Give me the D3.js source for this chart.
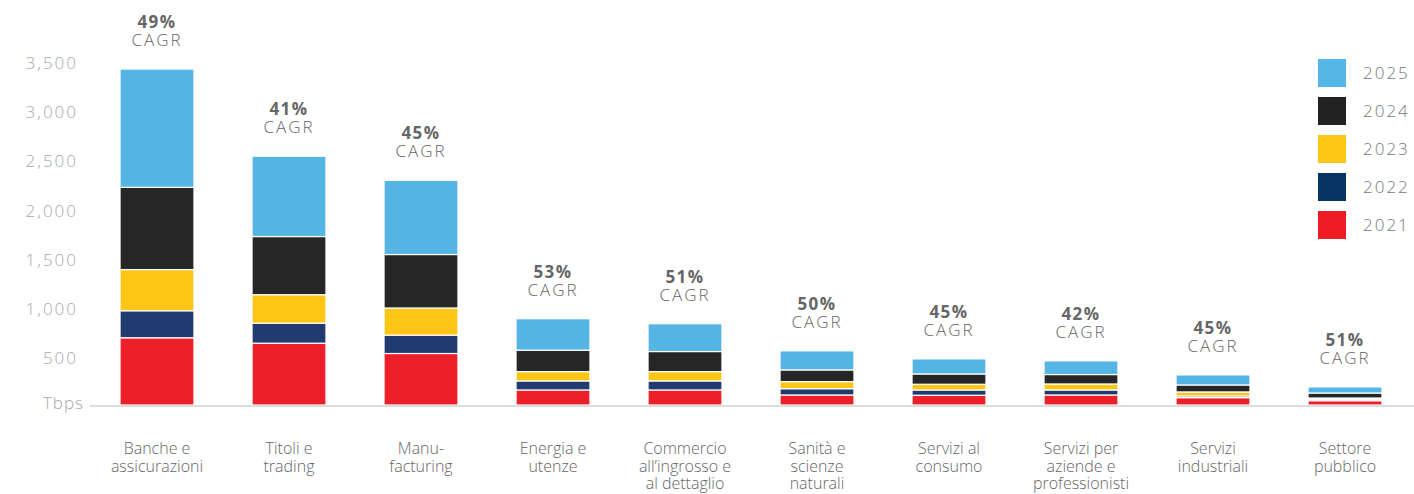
<!DOCTYPE html>
<html>
<head>
<meta charset="utf-8">
<script src="https://cdn.jsdelivr.net/npm/d3@7"></script>
<style>
body { margin: 0; background: #fff; }
svg text { font-family: "Open Sans", sans-serif; font-weight: 300; }
</style>
</head>
<body>
<div id="chart"></div>
<script>
// data (Tbps)
var categories = ["Banche e assicurazioni", "Titoli e trading", "Manufacturing", "Energia e utenze",
  "Commercio all'ingrosso e al dettaglio", "Sanità e scienze naturali", "Servizi al consumo",
  "Servizi per aziende e professionisti", "Servizi industriali", "Settore pubblico"];
var labelLines = [["Banche e", "assicurazioni"], ["Titoli e", "trading"], ["Manu-", "facturing"],
  ["Energia e", "utenze"], ["Commercio", "all\u2019ingrosso e", "al dettaglio"], ["Sanità e", "scienze", "naturali"],
  ["Servizi al", "consumo"], ["Servizi per", "aziende e", "professionisti"], ["Servizi", "industriali"],
  ["Settore", "pubblico"]];
var years = ["2021", "2022", "2023", "2024", "2025"];
var v2021 = [684, 629, 524, 153, 153, 102, 99, 102, 75, 44];
var v2022 = [275, 204, 187, 92, 92, 64, 54, 51, 17, 14];
var v2023 = [419, 289, 276, 95, 95, 72, 58, 61, 41, 13];
var v2024 = [836, 592, 544, 218, 204, 119, 105, 96, 71, 51];
var v2025 = [1204, 817, 755, 320, 283, 194, 153, 139, 102, 62];
var cagr = ["49%", "41%", "45%", "53%", "51%", "50%", "45%", "42%", "45%", "51%"];
var yTicks = [500, 1000, 1500, 2000, 2500, 3000, 3500];

var barColors = {"2021": "#ed1f29", "2022": "#213b70", "2023": "#fdc515", "2024": "#262626", "2025": "#55b6e6"};
var legendColors = {"2021": "#ee1c25", "2022": "#063563", "2023": "#fdc514", "2024": "#222222", "2025": "#55b7e8"};

var width = 1414, height = 494;
var svg = d3.select("#chart").append("svg").attr("width", width).attr("height", height);

var data = categories.map(function(c, i) {
  return {cat: c, "2021": v2021[i], "2022": v2022[i], "2023": v2023[i], "2024": v2024[i], "2025": v2025[i]};
});

var x = d3.scaleBand().domain(categories).range([91, 1411]).paddingInner(0.44).paddingOuter(0.22);
var y = d3.scaleLinear().domain([0, 3500]).range([405, 61]);

var series = d3.stack().keys(years)(data);

svg.append("g").selectAll("g")
  .data(series)
  .enter().append("g")
  .attr("fill", function(d) { return barColors[d.key]; })
  .selectAll("rect")
  .data(function(d) { return d; })
  .enter().append("rect")
  .attr("x", function(d) { return x(d.data.cat); })
  .attr("y", function(d) { return y(d[1]); })
  .attr("height", function(d) { return y(d[0]) - y(d[1]); })
  .attr("width", x.bandwidth())
  .attr("stroke", "#fff")
  .attr("stroke-width", 1.2);

// baseline
svg.append("line")
  .attr("x1", 90).attr("x2", width)
  .attr("y1", 406).attr("y2", 406)
  .attr("stroke", "#dddddd").attr("stroke-width", 2);

// y axis labels
var yAxis = svg.append("g")
  .attr("transform", "translate(78,0)")
  .call(d3.axisLeft(y).tickValues(yTicks).tickFormat(d3.format(",")).tickSize(0).tickPadding(0));
yAxis.select(".domain").remove();
yAxis.selectAll("text")
  .attr("dy", "0.45em")
  .style("font-family", "'Open Sans', sans-serif")
  .style("font-size", "17px")
  .style("letter-spacing", "2px")
  .attr("fill", "#a8a8a8");
svg.append("text")
  .attr("x", 84).attr("y", 409)
  .attr("text-anchor", "end")
  .style("font-size", "17px")
  .style("letter-spacing", "1px")
  .attr("fill", "#a8a8a8")
  .text("Tbps");

// CAGR labels
var lab = svg.append("g").selectAll("g")
  .data(data)
  .enter().append("g")
  .attr("transform", function(d) {
    var total = years.reduce(function(s, k) { return s + d[k]; }, 0);
    return "translate(" + (x(d.cat) + x.bandwidth() / 2) + "," + y(total) + ")";
  });
lab.append("text")
  .attr("y", -41)
  .attr("text-anchor", "middle")
  .style("font-size", "17px")
  .style("font-weight", "bold")
  .style("letter-spacing", "1.5px")
  .attr("fill", "#666")
  .text(function(d, i) { return cagr[i]; });
lab.append("text")
  .attr("y", -23)
  .attr("text-anchor", "middle")
  .style("font-size", "17px")
  .style("letter-spacing", "2px")
  .attr("fill", "#666")
  .text("CAGR");

// category labels
var cl = svg.append("g").selectAll("text")
  .data(categories)
  .enter().append("text")
  .attr("x", function(d) { return x(d) + x.bandwidth() / 2; })
  .attr("y", 454)
  .attr("text-anchor", "middle")
  .style("font-size", "16px")
  .attr("fill", "#666");
cl.selectAll("tspan")
  .data(function(d, i) { return labelLines[i]; })
  .enter().append("tspan")
  .attr("x", function() { return d3.select(this.parentNode).attr("x"); })
  .attr("dy", function(d, i) { return i === 0 ? 0 : 17.5; })
  .text(function(d) { return d; });

// legend
var legend = svg.append("g").selectAll("g")
  .data(years.slice().reverse())
  .enter().append("g")
  .attr("transform", function(d, i) { return "translate(1318," + (59 + i * 38) + ")"; });
legend.append("rect")
  .attr("width", 28).attr("height", 28)
  .attr("fill", function(d) { return legendColors[d]; });
legend.append("text")
  .attr("x", 45).attr("y", 14)
  .attr("dy", "0.36em")
  .style("font-size", "17px")
  .style("letter-spacing", "2px")
  .attr("fill", "#777")
  .text(function(d) { return d; });
</script>
</body>
</html>
